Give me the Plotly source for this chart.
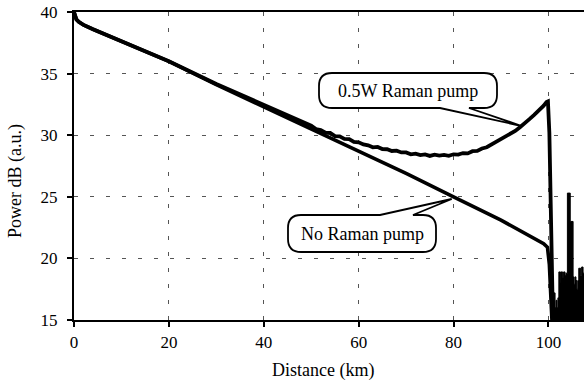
import plotly.graph_objects as go

# ---------------- data ----------------
no_pump_km = [0, 0.2, 0.5, 1, 2, 4, 10, 20, 30, 40, 50, 60, 70, 80, 90, 99, 99.8,
              100.2, 100.5, 100.8]
no_pump_db = [40, 39.7, 39.4, 39.2, 38.95, 38.6, 37.6, 36.0, 34.1, 32.3, 30.5, 28.7,
              26.9, 25.0, 23.1, 21.2, 20.9, 19.5, 17.0, 14.5]

pump_km = [0, 0.2, 0.5, 1, 2, 4, 10, 20, 30, 35, 40, 42, 44, 45, 46, 47, 48, 49, 50,
           51, 52, 53, 54, 55, 56, 57, 58, 59, 60, 61, 62, 63, 64, 65, 66, 67, 68, 69,
           70, 71, 72, 73, 74, 75, 76, 77, 78, 79, 80, 81, 82, 83, 84, 85, 86, 87, 88,
           89, 90, 91, 92, 93, 94, 95, 96, 97, 98, 99, 99.6, 99.9, 100.2, 100.5, 100.7,
           100.85, 101.0]
pump_db = [40, 39.7, 39.4, 39.2, 38.95, 38.6, 37.6, 36.0, 34.15, 33.3, 32.45, 32.15,
           31.8, 31.62, 31.48, 31.25, 31.12, 30.9, 30.78, 30.5, 30.42, 30.2, 30.18, 29.92,
           29.9, 29.7, 29.68, 29.45, 29.42, 29.25, 29.18, 29.02, 29.05, 28.88, 28.86, 28.72,
           28.74, 28.6, 28.6, 28.45, 28.5, 28.38, 28.44, 28.32, 28.42, 28.34, 28.4, 28.33,
           28.45, 28.42, 28.55, 28.52, 28.7, 28.72, 28.92, 29.02, 29.25, 29.42, 29.65, 29.85,
           30.1, 30.35, 30.65, 30.95, 31.3, 31.65, 32.0, 32.4, 32.7, 32.75, 30.2, 24.8,
           19.3, 15.0, 14.0]

noise_km = [100.8, 101.0, 101.2, 101.4, 101.6, 101.8, 102.0, 102.2, 102.5, 102.6, 103.0,
            103.2, 103.5, 103.7, 104.0, 104.6, 105.2, 105.4, 105.6, 105.8, 106.0, 106.2,
            106.4, 106.8, 107.0, 107.3, 107.6]
noise_db = [17.5, 16.5, 17.2, 16.0, 16.6, 16.0, 16.8, 18.9, 18.0, 18.9, 18.4, 18.9, 18.6,
            18.8, 25.3, 23.0, 18.5, 17.9, 18.5, 18.2, 17.5, 18.2, 19.2, 18.6, 19.3, 18.8,
            19.2]

x_ticks = [0, 20, 40, 60, 80, 100]
y_ticks = [15, 20, 25, 30, 35, 40]
label_pump = "0.5W Raman pump"
label_nopump = "No Raman pump"

# ---------------- layout geometry ----------------
W, H = 584, 385
ML, MR, MT, MB = 74, 0, 12, 65
XMAX = 107.5
YMIN, YMAX = 15, 40
pw, ph = W - ML - MR, H - MT - MB


def dx(px):
    return (px - ML) / pw * XMAX


def dy(py):
    return YMAX - (py - MT) / ph * (YMAX - YMIN)


def P(px, py):
    return f"{dx(px):.4f},{dy(py):.4f}"


def callout(L, R, T, B, r, side, a, b, tip):
    if side == "bottom":
        d = (f"M {P(L + r, T)} L {P(R - r, T)} Q {P(R, T)} {P(R, T + r)} "
             f"L {P(R, B - r)} Q {P(R, B)} {P(R - r, B)} L {P(b, B)} L {P(*tip)} "
             f"L {P(a, B)} L {P(L + r, B)} Q {P(L, B)} {P(L, B - r)} "
             f"L {P(L, T + r)} Q {P(L, T)} {P(L + r, T)} Z")
    else:
        d = (f"M {P(L + r, T)} L {P(a, T)} L {P(*tip)} L {P(b, T)} L {P(R - r, T)} "
             f"Q {P(R, T)} {P(R, T + r)} L {P(R, B - r)} Q {P(R, B)} {P(R - r, B)} "
             f"L {P(L + r, B)} Q {P(L, B)} {P(L, B - r)} "
             f"L {P(L, T + r)} Q {P(L, T)} {P(L + r, T)} Z")
    return dict(type="path", path=d, xref="x", yref="y", layer="above",
                fillcolor="white", line=dict(color="black", width=1.8))


FONT = "Liberation Serif"

fig = go.Figure()
fig.add_trace(go.Scatter(x=noise_km, y=noise_db, mode="lines", line_shape="hv",
                         fill="tozeroy", fillcolor="black",
                         line=dict(color="black", width=1), hoverinfo="skip"))
fig.add_trace(go.Scatter(x=no_pump_km, y=no_pump_db, mode="lines",
                         line=dict(color="black", width=3.6)))
fig.add_trace(go.Scatter(x=pump_km, y=pump_db, mode="lines",
                         line=dict(color="black", width=3.8)))

fig.update_layout(
    width=W, height=H, showlegend=False,
    margin=dict(l=ML, r=MR, t=MT, b=MB, pad=0),
    paper_bgcolor="white", plot_bgcolor="white",
    font=dict(family=FONT, size=17, color="black"),
    shapes=[
        callout(319, 497, 73, 108, 13, "bottom", 440, 469, (521.7, 126)),
        callout(288, 436, 215, 252, 13, "top", 380, 413, (451.7, 199)),
    ],
    annotations=[
        dict(x=dx(408), y=dy(90.5), xref="x", yref="y", text=label_pump,
             showarrow=False, font=dict(size=18, family=FONT, color="black"),
             xanchor="center", yanchor="middle"),
        dict(x=dx(362), y=dy(233.5), xref="x", yref="y", text=label_nopump,
             showarrow=False, font=dict(size=18, family=FONT, color="black"),
             xanchor="center", yanchor="middle"),
        dict(x=(15 - ML) / pw, y=((MT + ph) - 181) / ph, xref="paper",
             yref="paper", text="Power dB (a.u.)", textangle=-90, showarrow=False,
             font=dict(size=18, family=FONT, color="black"),
             xanchor="center", yanchor="middle"),
        dict(x=(323 - ML) / pw, y=((MT + ph) - 370) / ph, xref="paper",
             yref="paper", text="Distance (km)", showarrow=False,
             font=dict(size=18, family=FONT, color="black"),
             xanchor="center", yanchor="middle"),
    ],
)

fig.update_xaxes(range=[0, XMAX], tickvals=x_ticks, ticks="outside", ticklen=5,
                 tickwidth=1.5, tickcolor="black", showline=True, linecolor="black",
                 linewidth=2.2, mirror=True, showgrid=True, gridcolor="#555",
                 gridwidth=1.2, griddash="4px,12px", zeroline=False,
                 ticklabelstandoff=0, tickfont=dict(size=17, family=FONT))
fig.update_yaxes(range=[YMIN, YMAX], tickvals=y_ticks, ticks="outside", ticklen=5,
                 tickwidth=1.5, tickcolor="black", showline=True, linecolor="black",
                 linewidth=2.2, mirror=False, showgrid=True, gridcolor="#555",
                 gridwidth=1.2, griddash="4px,12px", zeroline=False,
                 ticklabelstandoff=6, tickfont=dict(size=17, family=FONT))

fig.write_html("out.html")
